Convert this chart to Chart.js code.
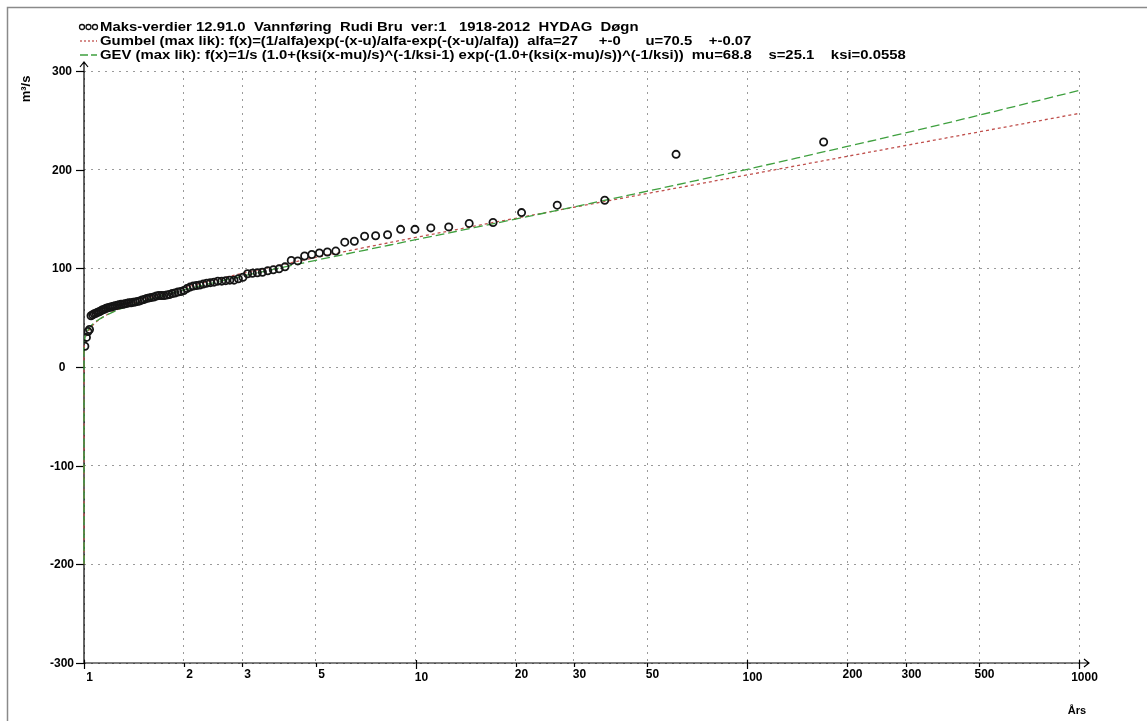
<!DOCTYPE html>
<html><head><meta charset="utf-8">
<script src="https://cdn.jsdelivr.net/npm/chart.js@4.4.1/dist/chart.umd.min.js"></script>
<style>html,body{margin:0;padding:0;background:#fff;overflow:hidden}#wrap{width:1147px;height:721px;position:relative}</style>
</head><body><div id="wrap"><canvas id="c" width="1147" height="721"></canvas></div>
<script>
// Return periods (years) of the annual maxima, largest value first
const returnPeriods = [169.86,60.97,37.16,26.72,20.86,17.11,14.50,12.58,11.11,9.950,
 9.008,8.228,7.573,7.015,6.533,6.113,5.744,5.417,5.125,4.863,
 4.626,4.412,4.216,4.037,3.873,3.721,3.581,3.451,3.331,3.218,
 3.113,3.014,2.921,2.834,2.752,2.675,2.602,2.532,2.467,2.404,
 2.345,2.289,2.235,2.184,2.135,2.088,2.043,2.000,1.959,1.919,
 1.881,1.845,1.810,1.776,1.743,1.712,1.682,1.653,1.624,1.597,
 1.571,1.545,1.520,1.497,1.473,1.451,1.429,1.408,1.387,1.367,
 1.348,1.329,1.311,1.293,1.276,1.259,1.242,1.226,1.211,1.196,
 1.181,1.166,1.152,1.138,1.125,1.112,1.099,1.086,1.074,1.062,
 1.050,1.039,1.028,1.017,1.006];
// Annual maximum discharge (m3/s)
const maxValues = [228,215.5,169,164,156.5,146.5,145.5,142,141,139.5,
 139.5,134,133,132.5,127.5,126.5,117.5,116.5,115.5,114,
 112.5,107.5,108,101.5,99.5,98.5,97.5,96,95.5,95,
 94.5,91,89.5,88,88,87.5,87,87,86,85.5,
 85,84,83,82.5,82,81,79.5,77.5,76.5,76,
 75,74.5,73.5,73,72.5,72.5,72.5,72,71,70.5,
 70,69.5,68.5,68,67,66.5,66,65.5,65,65,
 64.5,64,63.5,63.5,63,62.5,62,61.5,61,60.5,
 60,59.5,58.5,58,57,56,55.5,54.5,54,53,
 52,38,36,30,21];
// Fitted curves read at these return periods
const curveT  = [1,1.0001,1.001,1.01,1.02,1.05,1.1,1.2,1.3,1.5,1.75,2,2.5,3,4,5,7,10,15,20,30,50,70,100,200,300,500,1000];
const gumbelQ = [-200,10.6,18.3,29.2,33.5,40.4,46.9,54.8,60.2,68.0,75.0,80.4,88.6,94.9,104.1,111.0,121.0,131.3,142.7,150.7,161.9,175.9,185.0,194.7,213.5,224.5,238.3,257.0];
const gevQ    = [-200,16.4,22.8,32.0,35.7,41.7,47.4,54.4,59.3,66.5,73.0,78.1,86.0,92.0,101.2,108.1,118.3,129.0,141.2,149.9,162.3,178.2,188.9,200.4,223.5,237.3,255.2,280.3];
const xTicks = [1,2,3,5,10,20,30,50,100,200,300,500,1000];
const xMajor = [1,10,100,1000];
const yTicks = [-300,-200,-100,0,100,200,300];
const legendTexts = [
 "Maks-verdier 12.91.0  Vannføring  Rudi Bru  ver:1   1918-2012  HYDAG  Døgn",
 "Gumbel (max lik): f(x)=(1/alfa)exp(-(x-u)/alfa-exp(-(x-u)/alfa))  alfa=27     +-0      u=70.5    +-0.07",
 "GEV (max lik): f(x)=1/s (1.0+(ksi(x-mu)/s)^(-1/ksi-1) exp(-(1.0+(ksi(x-mu)/s))^(-1/ksi))  mu=68.8    s=25.1    ksi=0.0558"
];
const yTitle = "m³/s";
const xTitle = "Års";

const FONT = 'bold 12px "Liberation Sans", Arial, Helvetica, sans-serif';
const LFONT = 'bold 13px "Liberation Sans", Arial, Helvetica, sans-serif';
const RED = '#c0504d', GREEN = '#3fa03f';

const deco = {
  id: 'deco',
  beforeDatasetsDraw(chart) {
    const ctx = chart.ctx, a = chart.chartArea;
    const xs = chart.scales.x, ys = chart.scales.y;
    ctx.save();
    // frame
    ctx.strokeStyle = '#8a8a8a'; ctx.lineWidth = 1.5;
    ctx.beginPath(); ctx.moveTo(7.5, 721); ctx.lineTo(7.5, 7.5); ctx.lineTo(1147, 7.5); ctx.stroke();
    // axes
    ctx.strokeStyle = '#000'; ctx.lineWidth = 1.2;
    ctx.beginPath();
    ctx.moveTo(a.left, a.bottom); ctx.lineTo(a.left, a.top - 9);
    ctx.moveTo(a.left - 4, a.top - 4); ctx.lineTo(a.left, a.top - 9); ctx.lineTo(a.left + 4, a.top - 4);
    ctx.moveTo(a.left, a.bottom); ctx.lineTo(a.right + 10, a.bottom);
    ctx.moveTo(a.right + 5, a.bottom - 4); ctx.lineTo(a.right + 10, a.bottom); ctx.lineTo(a.right + 5, a.bottom + 4);
    ctx.stroke();
    // y ticks + labels
    ctx.font = FONT; ctx.fillStyle = '#000'; ctx.textBaseline = 'middle'; ctx.textAlign = 'center';
    yTicks.forEach(v => {
      const py = Math.round(ys.getPixelForValue(v)) + 0.5;
      ctx.beginPath(); ctx.moveTo(a.left - 8, py); ctx.lineTo(a.left, py); ctx.stroke();
      ctx.fillText(String(v), 62, py);
    });
    // x ticks + labels
    xTicks.forEach(v => {
      const px = Math.round(xs.getPixelForValue(v)) + 0.5;
      const major = xMajor.includes(v);
      ctx.beginPath();
      ctx.moveTo(px, a.bottom - (major ? 3 : 0)); ctx.lineTo(px, a.bottom + (major ? 6 : 4)); ctx.stroke();
      ctx.fillText(String(v), px + 5, a.bottom + (major ? 15 : 12));
    });
    // axis titles
    ctx.save(); ctx.translate(26, 89); ctx.rotate(-Math.PI / 2); ctx.font = LFONT; ctx.fillText(yTitle, 0, 0); ctx.restore();
    ctx.font = 'bold 11px "Liberation Sans", Arial, sans-serif';
    ctx.fillText(xTitle, 1077, 711);
    // legend
    const rows = [27, 41, 55];
    ctx.lineWidth = 1.3; ctx.strokeStyle = '#111';
    [0, 1, 2].forEach(k => { ctx.beginPath(); ctx.arc(82 + k * 6.5, rows[0], 2.5, 0, 2 * Math.PI); ctx.stroke(); });
    ctx.setLineDash([2, 2]); ctx.strokeStyle = RED;
    ctx.beginPath(); ctx.moveTo(80, rows[1]); ctx.lineTo(97, rows[1]); ctx.stroke();
    ctx.setLineDash([8, 3]); ctx.strokeStyle = GREEN;
    ctx.beginPath(); ctx.moveTo(80, rows[2]); ctx.lineTo(97, rows[2]); ctx.stroke();
    ctx.setLineDash([]);
    ctx.font = LFONT; ctx.textAlign = 'left'; ctx.fillStyle = '#000';
    legendTexts.forEach((t, i) => {
      ctx.save(); ctx.translate(100, rows[i]); ctx.scale(1.145, 1); ctx.fillText(t, 0, 0); ctx.restore();
    });
    ctx.restore();
  }
};

new Chart(document.getElementById('c'), {
  type: 'scatter',
  data: {
    datasets: [
      { label: 'Maks-verdier', data: returnPeriods.map((t, i) => ({x: t, y: maxValues[i]})),
        pointStyle: 'circle', pointRadius: 3.6, pointBorderWidth: 1.8, pointBorderColor: '#151515',
        pointBackgroundColor: 'rgba(0,0,0,0)', showLine: false, order: 0 },
      { label: 'Gumbel', data: curveT.map((t, i) => ({x: t, y: gumbelQ[i]})), showLine: true,
        borderColor: RED, borderWidth: 1.3, borderDash: [3, 3], pointRadius: 0, tension: 0.35, clip: false, order: 2 },
      { label: 'GEV', data: curveT.map((t, i) => ({x: t, y: gevQ[i]})), showLine: true,
        borderColor: GREEN, borderWidth: 1.3, borderDash: [9, 4], pointRadius: 0, tension: 0.35, clip: false, order: 1 }
    ]
  },
  options: {
    responsive: false, animation: false, devicePixelRatio: 1,
    layout: { padding: { left: 0, top: 71, right: 68, bottom: 0 } },
    plugins: { legend: { display: false }, tooltip: { enabled: false } },
    scales: {
      x: { type: 'logarithmic', min: 1, max: 1000,
           afterBuildTicks: s => { s.ticks = xTicks.map(v => ({value: v})); },
           afterFit: s => { s.height = 58; },
           ticks: { display: false },
           grid: { color: '#9a9a9a', lineWidth: 1, drawTicks: false },
           border: { display: false, dash: [2, 5] } },
      y: { type: 'linear', min: -300, max: 300,
           afterBuildTicks: s => { s.ticks = yTicks.map(v => ({value: v})); },
           afterFit: s => { s.width = 84; },
           ticks: { display: false },
           grid: { color: '#9a9a9a', lineWidth: 1, drawTicks: false },
           border: { display: false, dash: [2, 5] } }
    }
  },
  plugins: [deco]
});
</script></body></html>
